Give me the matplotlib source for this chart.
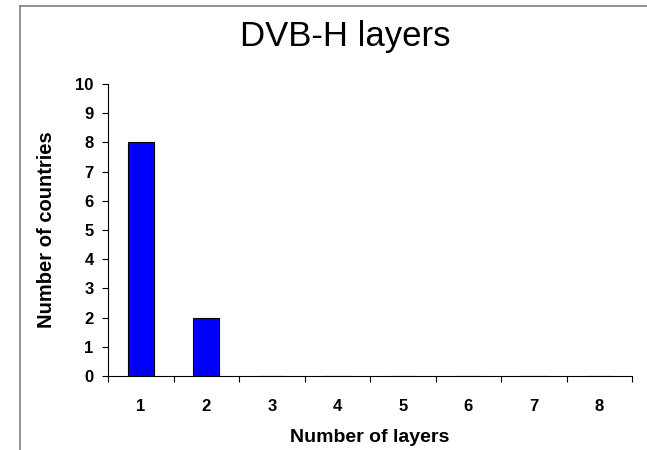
import matplotlib
matplotlib.use("Agg")
import matplotlib.pyplot as plt
from matplotlib.lines import Line2D

layers = [1, 2, 3, 4, 5, 6, 7, 8]
countries = [8, 2, 0, 0, 0, 0, 0, 0]

plt.rcParams['font.family'] = ['Liberation Sans', 'DejaVu Sans']

fig = plt.figure(figsize=(6.47, 4.5), dpi=100)
ax = fig.add_axes([108/647, 1-376/450, (632-108)/647, (376-84)/450])

ax.bar(layers, countries, width=0.4, color='#0000FF', edgecolor='black', linewidth=0.8)
ax.set_xlim(0.5, 8.5)
ax.set_ylim(0, 10)
ax.set_yticks(range(0, 11))
ax.set_xticks(layers)
ax.set_xticks([x + 0.5 for x in range(0, 9)], minor=True)
ax.tick_params(axis='x', which='major', length=0, pad=16.5)
ax.tick_params(axis='x', which='minor', length=4.3, direction='out', width=0.8)
ax.tick_params(axis='y', length=4.3, width=0.8, pad=6)
for lab in ax.get_xticklabels() + ax.get_yticklabels():
    lab.set_fontweight('bold')
    lab.set_fontsize(12)
for s in ['top', 'right']:
    ax.spines[s].set_visible(False)
for s in ['left', 'bottom']:
    ax.spines[s].set_linewidth(0.8)

ax.set_xlabel('Number of layers', fontsize=14, fontweight='bold', labelpad=11)
ax.set_ylabel('Number of countries', fontsize=14.5, fontweight='bold', labelpad=14)

fig.text(345/647, 1-46/450, 'DVB-H layers', fontsize=25, ha='center', va='baseline')

# outer chart frame (cut off at right and bottom)
fig.add_artist(Line2D([20/647, 20/647], [0, 1-6/450], color='#808080', lw=1.2))
fig.add_artist(Line2D([20/647, 1], [1-6/450, 1-6/450], color='#808080', lw=1.2))

fig.savefig('out.png', dpi=100)
